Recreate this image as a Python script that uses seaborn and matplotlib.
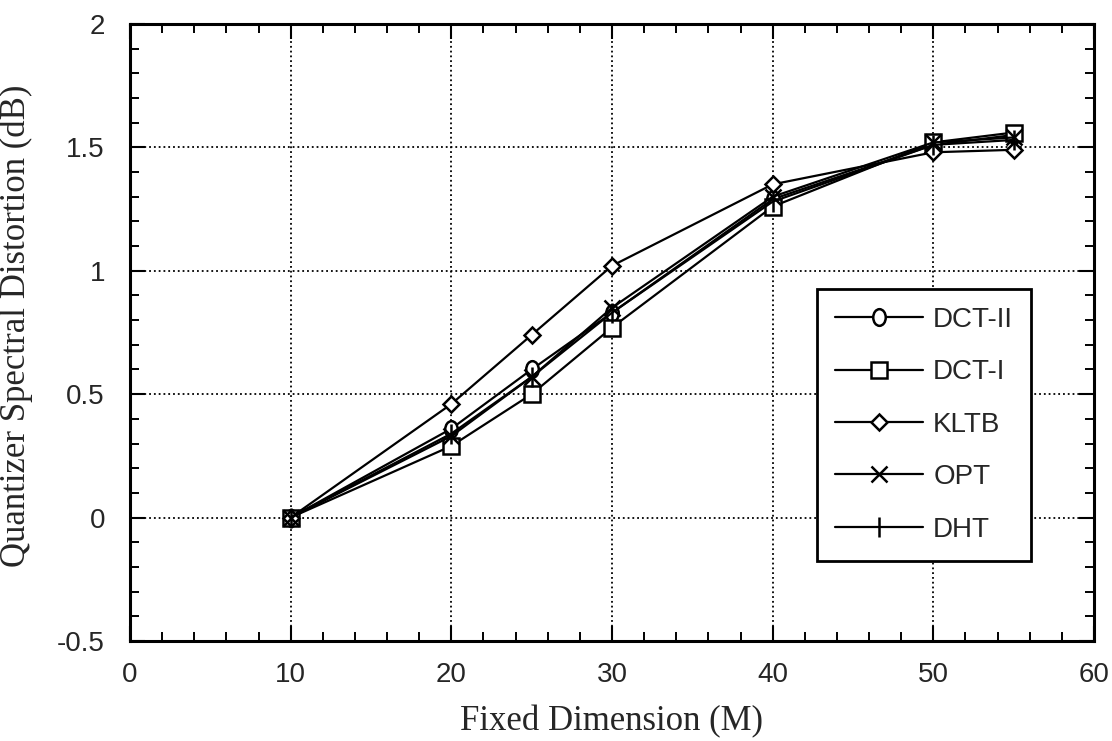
import matplotlib
matplotlib.use("Agg")
import matplotlib.pyplot as plt
import seaborn as sns
import pandas as pd
from matplotlib.ticker import MultipleLocator
from matplotlib.path import Path
from matplotlib.transforms import Affine2D

x_vals = [10, 20, 25, 30, 40, 50, 55]
dct2 = [0.0, 0.36, 0.60, 0.83, 1.29, 1.51, 1.55]
dct1 = [0.0, 0.29, 0.50, 0.77, 1.26, 1.52, 1.56]
kltb = [0.0, 0.46, 0.74, 1.02, 1.35, 1.48, 1.49]
opt = [0.0, 0.33, 0.57, 0.85, 1.30, 1.52, 1.54]
dht = [0.0, 0.34, 0.57, 0.83, 1.28, 1.51, 1.53]

series_names = ["DCT-II", "DCT-I", "KLTB", "OPT", "DHT"]
series_vals = [dct2, dct1, kltb, opt, dht]

ellipse = Path.unit_circle().transformed(Affine2D().scale(0.75, 1.0))
markers = [ellipse, "s", "D", "x", "|"]
msizes = [12, 11, 8, 12, 15]

sns.set_theme(style="white")
plt.rcParams["font.family"] = ["Liberation Sans", "DejaVu Sans"]

fig = plt.figure(figsize=(11.12, 7.41), dpi=100)
ax = fig.add_axes([0.1169, 0.1350, 0.8669, 0.8327])

for name, vals, mk, ms in zip(series_names, series_vals, markers, msizes):
    df = pd.DataFrame({"M": x_vals, "D": vals})
    sns.lineplot(data=df, x="M", y="D", ax=ax, color="black", lw=1.6,
                 marker=mk, markersize=ms, markerfacecolor="white",
                 markeredgecolor="black", markeredgewidth=1.8, label=name)

ax.set_xlim(0, 60)
ax.set_ylim(-0.5, 2)
ax.xaxis.set_major_locator(MultipleLocator(10))
ax.xaxis.set_minor_locator(MultipleLocator(2))
ax.yaxis.set_minor_locator(MultipleLocator(0.1))
ax.set_yticks([-0.5, 0, 0.5, 1, 1.5, 2])
ax.set_yticklabels(["-0.5", "0", "0.5", "1", "1.5", "2"])
ax.tick_params(which="both", direction="in", top=True, right=True, bottom=True, left=True,
               color="black")
ax.tick_params(which="major", length=11, width=1.5, labelsize=20)
ax.tick_params(axis="x", which="major", pad=15)
ax.tick_params(axis="y", which="major", pad=18)
ax.tick_params(which="minor", length=6.5, width=1.4)
ax.grid(True, which="major", color="black", linestyle=":", linewidth=1.3)
for s in ax.spines.values():
    s.set_color("black")
    s.set_linewidth(2.2)

ax.set_xlabel("Fixed Dimension (M)", fontsize=25, family="Liberation Serif")
ax.set_ylabel("Quantizer Spectral Distortion (dB)", fontsize=25, family="Liberation Serif")
ax.xaxis.set_label_coords(0.5, -0.104)
ax.yaxis.set_label_coords(-0.101, 0.51)

leg = ax.legend(loc="upper left", bbox_to_anchor=(0.7127, 0.5705), borderaxespad=0,
                fontsize=20, frameon=True, fancybox=False, edgecolor="black", framealpha=1,
                handlelength=3.17, labelspacing=0.95, borderpad=0.65, handletextpad=0.36)
leg.get_frame().set_linewidth(2.0)

fig.savefig("out.png", dpi=100, facecolor="white")
